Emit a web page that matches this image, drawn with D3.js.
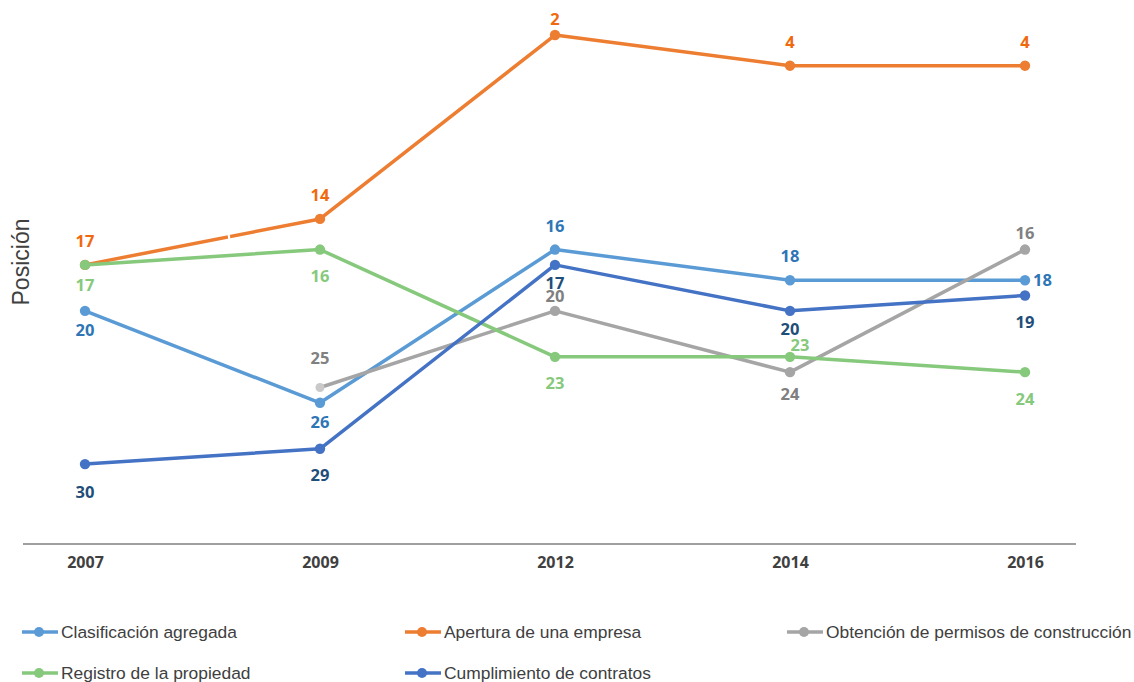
<!DOCTYPE html>
<html lang="es">
<head>
	<meta charset="UTF-8">
	<title>Posición por indicador</title>
	<script src="https://d3js.org/d3.v7.min.js"></script>
	<style>
		body { margin: 0; background: #fff; }
		svg { display: block; }
		.val { font-family: "Open Sans", sans-serif; font-weight: 700; font-size: 16.5px; }
		.year { font-family: "Open Sans", sans-serif; font-weight: 700; font-size: 16px; fill: #404040; }
		.leg { font-family: "Liberation Sans", Arial, sans-serif; font-size: 17.4px; fill: #404040; }
	</style>
</head>
<body>
<div id="chart"></div>
<script>
	// data
	const years = ["2007", "2009", "2012", "2014", "2016"];
	const clasificacion = [20, 26, 16, 18, 18];
	const apertura = [17, 14, 2, 4, 4];
	const permisos = [null, 25, 20, 24, 16];
	const registro = [17, 16, 23, 23, 24];
	const contratos = [30, 29, 17, 20, 19];

	const series = [
		{ name: "Clasificación agregada", values: clasificacion, color: "#5B9BD5", label: "#2E75B6" },
		{ name: "Apertura de una empresa", values: apertura, color: "#ED7D31", label: "#F0690F" },
		{ name: "Obtención de permisos de construcción", values: permisos, color: "#A5A5A5", label: "#808080" },
		{ name: "Registro de la propiedad", values: registro, color: "#86C97C", label: "#86C97C" },
		{ name: "Cumplimiento de contratos", values: contratos, color: "#4472C4", label: "#1F4E79" }
	];

	// label offsets [dx, dy, anchor] per series/point (relative to marker)
	const labelPos = [
		[[0, 19], [0, 19], [0, -24], [0, -24], [8, 0, "start"]],
		[[0, -24], [0, -24], [0, -16], [0, -24], [0, -24]],
		[null, [0, -29], [0, -15], [0, 22], [0, -17]],
		[[0, 20], [0, 26], [0, 26], [10, -12], [0, 27]],
		[[0, 28], [0, 26], [0, 18], [0, 18], [0, 27]]
	];

	const W = 1134, H = 682;
	const svg = d3.create("svg").attr("width", W).attr("height", H);

	const x = d3.scalePoint().domain(years).range([85, 1025]);
	const y = d3.scaleLinear().domain([0, 35]).range([4.4, 540.7]);
	const axisY = 544;

	// x axis
	svg.append("line")
		.attr("x1", 23).attr("x2", 1076)
		.attr("y1", axisY).attr("y2", axisY)
		.attr("stroke", "#7f7f7f").attr("stroke-width", 1.3);

	const xAxis = svg.append("g")
		.attr("transform", `translate(0,${axisY})`)
		.call(d3.axisBottom(x).tickSize(0).tickPadding(13));
	xAxis.select(".domain").remove();
	xAxis.selectAll("text").attr("class", "year").attr("font-family", null).attr("font-size", null).attr("fill", null);

	// y title
	svg.append("text")
		.attr("transform", "translate(29,262) rotate(-90)")
		.attr("text-anchor", "middle")
		.attr("font-family", "Liberation Sans, Arial, sans-serif")
		.attr("font-size", 23)
		.attr("fill", "#404040")
		.text("Posición");

	const line = d3.line()
		.defined(d => d.v != null)
		.x(d => x(d.year))
		.y(d => y(d.v));

	series.forEach((s, si) => {
		const pts = s.values.map((v, i) => ({ year: years[i], v: v, i: i }));
		svg.append("path")
			.datum(pts)
			.attr("d", line)
			.attr("fill", "none")
			.attr("stroke", s.color)
			.attr("stroke-width", 3.5)
			.attr("stroke-linejoin", "round");

		if (si === 1) {
			// small break in the line, as in the original
			const a = pts[0], b = pts[1];
			const t = (229 - x(a.year)) / (x(b.year) - x(a.year));
			const yy = y(a.v) + t * (y(b.v) - y(a.v));
			svg.append("line")
				.attr("x1", 229 - 0.6).attr("x2", 229 + 0.6)
				.attr("y1", yy - 4).attr("y2", yy + 4)
				.attr("stroke", "#fff").attr("stroke-width", 2.2);
		}
	});

	series.forEach((s, si) => {
		s.values.forEach((v, i) => {
			if (v == null) return;
			const light = si === 2 && i === 1;
			svg.append("circle")
				.attr("cx", x(years[i]))
				.attr("cy", y(v))
				.attr("r", light ? 4.5 : 5.2)
				.attr("fill", light ? "#C9C9C9" : s.color);
		});
	});

	series.forEach((s, si) => {
		s.values.forEach((v, i) => {
			if (v == null) return;
			const off = labelPos[si][i];
			svg.append("text")
				.attr("class", "val")
				.attr("x", x(years[i]) + off[0])
				.attr("y", y(v) + off[1])
				.attr("dy", "0.36em")
				.attr("text-anchor", off[2] || "middle")
				.attr("fill", s.label)
				.text(v);
		});
	});

	// legend
	const legX = [22, 405, 787];
	const legY = [632, 673];
	series.forEach((s, i) => {
		const lx = legX[i % 3], ly = legY[Math.floor(i / 3)];
		const g = svg.append("g").attr("transform", `translate(${lx},${ly})`);
		g.append("line").attr("x1", 0).attr("x2", 36).attr("y1", 0).attr("y2", 0)
			.attr("stroke", s.color).attr("stroke-width", 3.5);
		g.append("circle").attr("cx", 17).attr("cy", 0).attr("r", 5).attr("fill", s.color);
		g.append("text").attr("class", "leg").attr("x", 39).attr("y", 0).attr("dy", "0.35em").text(s.name);
	});

	document.getElementById("chart").append(svg.node());
</script>
</body>
</html>
